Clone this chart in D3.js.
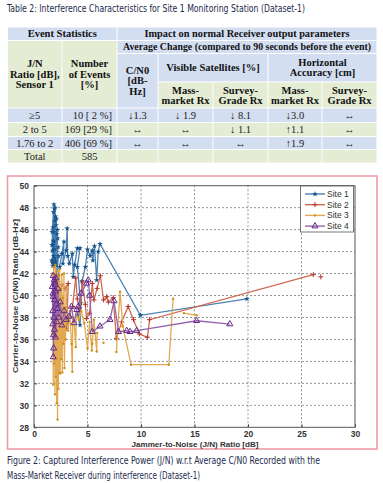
<!DOCTYPE html>
<html><head><meta charset="utf-8">
<script src="https://cdn.jsdelivr.net/npm/d3@7"></script>
<style>body{margin:0;background:#fff}svg{display:block}</style>
</head><body>
<script>
// ---------- DATA ----------
const tableTitle = "Table 2: Interference Characteristics for Site 1 Monitoring Station (Dataset-1)";
const rowLabels = ["≥5", "2 to 5", "1.76 to 2", "Total"];
const eventCounts = ["10 [  2 %]", "169 [29 %]", "406 [69 %]", "585"];
const cn0Change = ["↓1.3", "↔", "↔", ""];
const visMass = ["↓ 1.9", "↔", "↔", ""];
const visSurvey = ["↓ 8.1", "↓ 1.1", "↔", ""];
const accMass = ["↓3.0", "↑1.1", "↑1.9", ""];
const accSurvey = ["↔", "↔", "↔", ""];

const seriesNames = ["Site 1", "Site 2", "Site 3", "Site 4"];
const xTicks = [0, 5, 10, 15, 20, 25, 30];
const yTicks = [28, 30, 32, 34, 36, 38, 40, 42, 44, 46, 48, 50];

const site1 = [[1.66,43.2],[1.72,43.0],[1.78,46.2],[1.68,44.6],[1.74,44.1],[1.82,47.6],[1.7,45.8],[1.76,42.7],[1.86,48.3],[1.8,45.0],[1.9,47.9],[1.84,43.6],[1.94,46.8],[1.78,44.6],[1.98,48.0],[1.88,42.9],[2.02,47.2],[1.82,45.8],[2.06,46.4],[1.92,43.4],[2.1,47.0],[1.86,44.9],[2.14,45.6],[1.96,42.6],[2.18,46.0],[1.9,44.2],[2.22,45.2],[2.0,43.1],[2.26,44.4],[2.05,42.8],[2.3,43.6],[2.1,41.9],[2.0,40.6],[2.15,39.6],[2.25,41.2],[2.4,42.6],[2.6,43.8],[2.8,44.9],[2.7,42.9],[3.0,44.1],[3.1,46.1],[3.15,43.6],[3.3,42.9],[3.58,43.8],[3.67,41.7],[3.8,42.8],[4.05,44.3],[4.3,44.3],[4.05,42.6],[4.36,39.3],[4.05,38.2],[4.3,37.3],[4.5,41.3],[4.8,42.6],[5.0,44.2],[5.25,43.6],[5.45,44.1],[5.5,43.2],[5.65,44.5],[5.86,41.4],[6.0,44.0],[6.17,44.7],[9.94,38.2],[19.9,39.7]];
const site2 = [[2.3,40.2],[2.6,41.0],[2.9,40.6],[3.2,41.1],[3.05,37.0],[3.4,38.1],[3.1,37.6],[3.6,39.0],[3.9,41.6],[4.05,39.7],[4.3,38.5],[4.5,41.25],[4.8,39.2],[4.9,37.9],[5.2,38.4],[5.45,41.1],[5.6,39.6],[5.9,40.65],[6.2,41.8],[6.5,39.6],[6.8,39.9],[6.95,39.4],[7.4,39.8],[7.7,36.1],[8.2,37.6],[8.8,39.0],[9.3,37.8],[9.84,36.5],[10.6,36.2],[10.8,37.8],[26.1,41.9],null,[26.8,41.7]];
const site3 = [[1.72,36.5],[1.76,42.0],[1.8,31.9],[1.84,42.6],[1.88,33.8],[1.92,41.5],[1.96,31.0],[2.0,42.8],[2.04,32.6],[2.08,40.9],[2.12,30.2],[2.16,42.2],[2.2,28.7],[2.24,39.6],[2.28,31.5],[2.32,41.8],[2.36,33.0],[2.4,42.4],[2.45,32.9],[2.5,40.6],[2.55,34.2],[2.6,41.9],[2.65,33.0],[2.7,39.8],[2.75,35.6],[2.8,42.0],[2.85,33.4],[2.9,38.9],[2.95,36.0],[3.0,40.8],[3.1,37.4],[3.2,36.8],[3.35,38.6],[3.5,35.6],[3.58,33.05],[3.62,38.0],[3.75,37.6],[3.9,35.3],[3.95,38.2],[4.2,37.8],[4.4,38.6],[4.7,37.5],[5.0,35.2],[5.2,37.6],[5.4,35.0],[5.45,35.6],[5.6,37.8],[5.86,34.9],[5.9,36.6],null,[6.5,35.7],null,[7.7,34.85],[8.04,40.35],[8.3,37.2],[9.07,33.7],[12.6,33.7],[13.0,39.7],null,[14.0,38.4],[15.2,38.2]];
const site4 = [[1.72,40.8],[1.76,37.4],[1.8,41.8],[1.84,35.2],[1.78,40.2],[1.88,41.4],[1.8,34.4],[1.92,39.6],[1.76,38.6],[1.96,41.0],[1.82,36.4],[2.0,40.4],[1.86,38.0],[2.04,41.6],[1.9,36.9],[2.08,39.2],[1.8,39.9],[2.12,37.6],[1.94,41.2],[2.18,38.8],[2.0,36.2],[2.24,40.6],[2.3,38.0],[2.45,39.4],[2.6,37.3],[2.8,38.6],[3.0,37.8],[3.27,38.1],[3.5,39.0],[3.74,37.5],[4.0,38.7],[4.14,39.0],[4.4,40.2],[4.9,41.1],[5.07,41.4],[5.2,40.0],[5.45,36.7],[6.17,37.2],[7.1,37.8],[7.48,39.5],[7.9,36.7],[8.66,36.8],[8.97,36.7],[9.6,36.8],[15.2,37.7],[18.3,37.4]];

// ---------- STYLE ----------
const BLUE = "#d3def1", GREEN = "#e4ecd4";
const serif = "'Liberation Serif','Times New Roman',serif";
const sans = "'Liberation Sans',Arial,sans-serif";
const narrow = "'Liberation Sans Narrow','DejaVu Sans Condensed','Liberation Sans',sans-serif";
const navy = "#1c2a4e";

const svg = d3.select("body").append("svg").attr("width",383).attr("height",483);

// ---------- TABLE ----------
svg.append("text").attr("x",7).attr("y",12).attr("font-family",narrow).attr("font-size",10)
  .attr("fill",navy).attr("textLength",298).attr("lengthAdjust","spacingAndGlyphs").text(tableTitle);

const colX = [7.5, 62, 117, 158, 213, 268, 322, 377];
const rowY = [27, 40.5, 53.5, 82, 108, 122.5, 136.5, 149.5, 163];

const headerCells = [
  {c:[0,2], r:[0,1], f:BLUE, t:["Event Statistics"]},
  {c:[2,7], r:[0,1], f:BLUE, t:["Impact on normal Receiver output parameters"], tl:205},
  {c:[0,1], r:[1,4], f:GREEN, t:["J/N","Ratio [dB],","Sensor 1"], ty:[63,74,84.5]},
  {c:[1,2], r:[1,4], f:GREEN, t:["Number","of Events","[%]"], ty:[63,74,84.5]},
  {c:[2,7], r:[1,2], f:BLUE, t:["Average Change (compared to 90 seconds before the event)"], tl:248, fs:9.6},
  {c:[2,3], r:[2,4], f:BLUE, t:["C/N0","[dB-","Hz]"], ty:[70.7,80.7,91]},
  {c:[3,5], r:[2,3], f:BLUE, t:["Visible Satellites [%]"]},
  {c:[5,7], r:[2,3], f:BLUE, t:["Horizontal","Accuracy [cm]"], ty:[62.5,72.5]},
  {c:[3,4], r:[3,4], f:GREEN, t:["Mass-","market Rx"], ty:[90,100]},
  {c:[4,5], r:[3,4], f:GREEN, t:["Survey-","Grade Rx"], ty:[90,100]},
  {c:[5,6], r:[3,4], f:GREEN, t:["Mass-","market Rx"], ty:[90,100]},
  {c:[6,7], r:[3,4], f:GREEN, t:["Survey-","Grade Rx"], ty:[90,100]}
];
const tg = svg.append("g");
headerCells.forEach(cell => {
  const x0 = colX[cell.c[0]], x1 = colX[cell.c[1]], y0 = rowY[cell.r[0]], y1 = rowY[cell.r[1]];
  tg.append("rect").attr("x",x0+0.5).attr("y",y0+0.5).attr("width",x1-x0-1).attr("height",y1-y0-1).attr("fill",cell.f);
  const ys = cell.ty || [(y0+y1)/2];
  cell.t.forEach((s,i) => {
    const t = tg.append("text").attr("x",(x0+x1)/2).attr("y",ys[i]).attr("dy","0.35em")
      .attr("text-anchor","middle").attr("font-family",serif).attr("font-weight","bold")
      .attr("font-size",cell.fs || 10.5).attr("fill","#111").text(s);
    if (cell.tl) t.attr("textLength",cell.tl).attr("lengthAdjust","spacingAndGlyphs");
  });
});
const cols = [rowLabels, eventCounts, cn0Change, visMass, visSurvey, accMass, accSurvey];
rowLabels.forEach((_, ri) => {
  const y0 = rowY[4+ri], y1 = rowY[5+ri];
  const fill = ri % 2 === 0 ? BLUE : GREEN;
  for (let ci = 0; ci < 7; ci++) {
    const x0 = colX[ci], x1 = colX[ci+1];
    tg.append("rect").attr("x",x0+0.5).attr("y",y0+0.5).attr("width",x1-x0-1).attr("height",y1-y0-1).attr("fill",fill);
    const s = cols[ci][ri];
    if (!s) continue;
    let xx = (x0+x1)/2, anchor = "middle";
    if (ci === 1 && ri < 3) { xx = x1 - 5; anchor = "end"; }
    tg.append("text").attr("x",xx).attr("y",(y0+y1)/2).attr("dy","0.35em").attr("text-anchor",anchor)
      .attr("font-family",serif).attr("font-size",10.5).attr("fill","#222").text(s);
  }
});

// ---------- CHART ----------
svg.append("rect").attr("x",7.5).attr("y",176).attr("width",369.5).attr("height",273)
  .attr("fill","none").attr("stroke","#ef9aa6").attr("stroke-width",1.6);

const x = d3.scaleLinear().domain([0,30]).range([34,355]);
const y = d3.scaleLinear().domain([28,50]).range([427.3,185.7]);
const g = svg.append("g");

// grid
g.selectAll(".gx").data(xTicks.slice(1,-1)).join("line")
  .attr("x1",d=>x(d)).attr("x2",d=>x(d)).attr("y1",y(28)).attr("y2",y(50))
  .attr("stroke","#777").attr("stroke-width",0.8).attr("stroke-dasharray","2,2");
g.selectAll(".gy").data(yTicks.slice(1,-1)).join("line")
  .attr("x1",x(0)).attr("x2",x(30)).attr("y1",d=>y(d)).attr("y2",d=>y(d))
  .attr("stroke","#777").attr("stroke-width",0.8).attr("stroke-dasharray","2,2");

// axes
const xAxis = d3.axisBottom(x).tickValues(xTicks).tickSize(-3).tickPadding(5);
const yAxis = d3.axisLeft(y).tickValues(yTicks).tickSize(-3).tickPadding(5);
const gx = g.append("g").attr("transform",`translate(0,${y(28)})`).call(xAxis);
const gy = g.append("g").attr("transform",`translate(${x(0)},0)`).call(yAxis);
[gx, gy].forEach(a => {
  a.select(".domain").remove();
  a.selectAll("line").attr("stroke","#444");
  a.selectAll("text").attr("font-family",sans).attr("font-weight","bold").attr("font-size",8.5).attr("fill","#333");
});
gx.selectAll("text").attr("dy","0.6em");
g.append("rect").attr("x",x(0)).attr("y",y(50)).attr("width",x(30)-x(0)).attr("height",y(28)-y(50))
  .attr("fill","none").attr("stroke","#555").attr("stroke-width",1);

// axis titles
svg.append("text").attr("x",195).attr("y",447).attr("text-anchor","middle").attr("font-family",sans)
  .attr("font-weight","bold").attr("font-size",8).attr("fill","#333")
  .attr("textLength",127).attr("lengthAdjust","spacingAndGlyphs").text("Jammer-to-Noise (J/N) Ratio [dB]");
svg.append("text").attr("transform","translate(18,296) rotate(-90)").attr("text-anchor","middle").attr("font-family",sans)
  .attr("font-weight","bold").attr("font-size",8).attr("fill","#333")
  .attr("textLength",154).attr("lengthAdjust","spacingAndGlyphs").text("Carrier-to-Noise (C/N0) Ratio [dB-Hz]");

// series
const series = [
  {data:site1, line:"#4a82b3", mark:"#17548a", sym:"star"},
  {data:site2, line:"#cf6a55", mark:"#b5302a", sym:"plus"},
  {data:site3, line:"#e2aa50", mark:"#d08d18", sym:"dot"},
  {data:site4, line:"#9467ad", mark:"#66278a", sym:"tri"}
];
const line = d3.line().defined(d=>d!==null).x(d=>x(d[0])).y(d=>y(d[1]));
function drawMarker(sel, sym, color) {
  if (sym === "star") sel.append("path").attr("d",d3.symbol(d3.symbolStar,10)()).attr("fill",color);
  else if (sym === "plus") sel.append("path").attr("d","M-2.5,0H2.5M0,-2.5V2.5").attr("stroke",color).attr("stroke-width",1).attr("fill","none");
  else if (sym === "dot") sel.append("circle").attr("r",1.2).attr("fill",color);
  else sel.append("path").attr("d",d3.symbol(d3.symbolTriangle,16)()).attr("fill","none").attr("stroke",color).attr("stroke-width",1);
}
series.forEach(s => {
  g.append("path").datum(s.data).attr("d",line).attr("fill","none").attr("stroke",s.line).attr("stroke-width",1.3);
  g.append("g").selectAll("g").data(s.data.filter(d=>d!==null)).join("g")
    .attr("transform",d=>`translate(${x(d[0])},${y(d[1])})`)
    .each(function(){ drawMarker(d3.select(this), s.sym, s.mark); });
});

// legend
const lg = svg.append("g");
lg.append("rect").attr("x",300.5).attr("y",186).attr("width",53).attr("height",46)
  .attr("fill","#fff").attr("stroke","#555").attr("stroke-width",0.8);
seriesNames.forEach((name,i) => {
  const yy = 194 + i*10.7;
  lg.append("line").attr("x1",305).attr("x2",325).attr("y1",yy).attr("y2",yy).attr("stroke",series[i].line).attr("stroke-width",1.4);
  drawMarker(lg.append("g").attr("transform",`translate(315,${yy})`), series[i].sym, series[i].mark);
  lg.append("text").attr("x",327).attr("y",yy).attr("dy","0.35em").attr("font-family",sans)
    .attr("font-size",8.5).attr("fill","#333").text(name);
});

// caption
svg.append("text").attr("x",7).attr("y",464).attr("font-family",narrow).attr("font-size",10).attr("fill",navy)
  .attr("textLength",313).attr("lengthAdjust","spacingAndGlyphs")
  .text("Figure 2: Captured Interference Power (J/N) w.r.t Average C/N0 Recorded with the");
svg.append("text").attr("x",7).attr("y",479).attr("font-family",narrow).attr("font-size",10).attr("fill",navy)
  .attr("textLength",193).attr("lengthAdjust","spacingAndGlyphs")
  .text("Mass-Market Receiver during interference (Dataset-1)");
</script>
</body></html>
